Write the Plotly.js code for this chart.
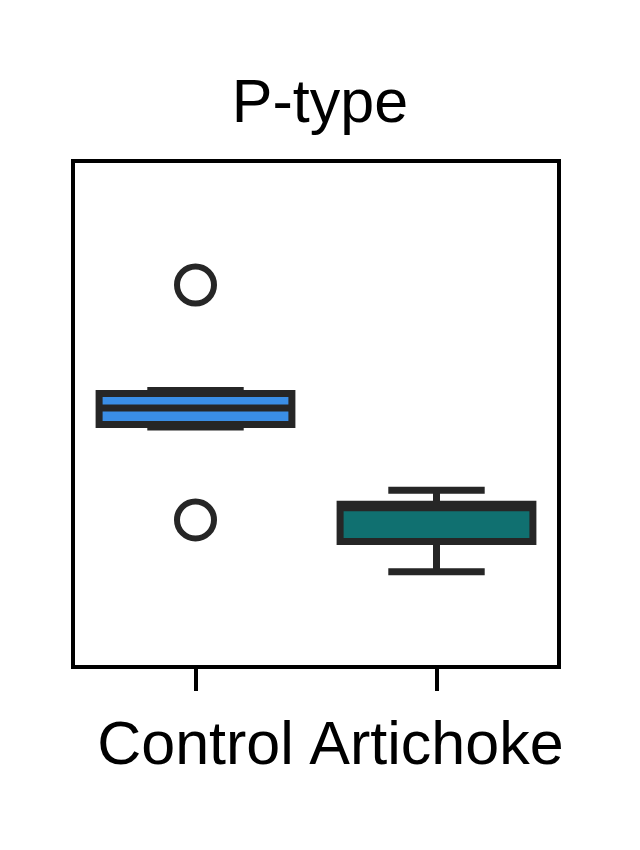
<!DOCTYPE html>
<html><head><meta charset="utf-8">
<script src="https://cdn.plot.ly/plotly-3.0.1.min.js"></script>
<style>html,body{margin:0;padding:0;background:#fff}#chart{width:640px;height:850px}</style>
</head><body><div id="chart"></div>
<script>
const categories = ["Control", "Artichoke"];
const lowerFence = [4.74, 1.86];
const q1 = [4.79, 2.46];
const median = [5.12, 3.13];
const q3 = [5.41, 3.20];
const upperFence = [5.47, 3.48];
const outlierCat = ["Control", "Control"];
const outlierVal = [7.57, 2.89];
const fills = ["#3a8ee6", "#107070"];

const traces = categories.map((c, i) => ({
  type: "box",
  x: [c],
  q1: [q1[i]], median: [median[i]], q3: [q3[i]],
  lowerfence: [lowerFence[i]], upperfence: [upperFence[i]],
  fillcolor: fills[i],
  line: {color: "#262626", width: 7},
  whiskerwidth: 0.5,
  width: 0.80,
  boxpoints: false,
  hoverinfo: "skip",
  showlegend: false
}));
traces.push({
  type: "scatter", mode: "markers",
  x: outlierCat, y: outlierVal,
  marker: {symbol: "circle", size: 37, color: "rgba(0,0,0,0)", line: {color: "#262626", width: 6}},
  showlegend: false, hoverinfo: "skip", cliponaxis: false
});

const layout = {
  width: 640, height: 850,
  margin: {l: 75, r: 83, t: 163, b: 185},
  paper_bgcolor: "#fff", plot_bgcolor: "#fff",
  font: {family: "Liberation Sans, Arial, sans-serif", color: "#000"},
  title: {text: "P-type", font: {size: 61, color: "#000"}, x: 0.5, xanchor: "center", y: 1, yref: "paper", yanchor: "bottom", pad: {b: 41}},
  boxmode: "overlay",
  xaxis: {
    type: "category", categoryarray: categories, range: [-0.5, 1.5],
    showline: true, linecolor: "#000", linewidth: 4, mirror: true,
    ticks: "outside", ticklen: 22, tickwidth: 4, tickcolor: "#000",
    tickfont: {size: 61, color: "#000"}, showgrid: false, zeroline: false
  },
  yaxis: {
    range: [0, 10], showline: true, linecolor: "#000", linewidth: 4, mirror: true,
    ticks: "", showticklabels: false, showgrid: false, zeroline: false
  }
};
Plotly.newPlot("chart", traces, layout, {displayModeBar: false, staticPlot: true});
</script></body></html>
